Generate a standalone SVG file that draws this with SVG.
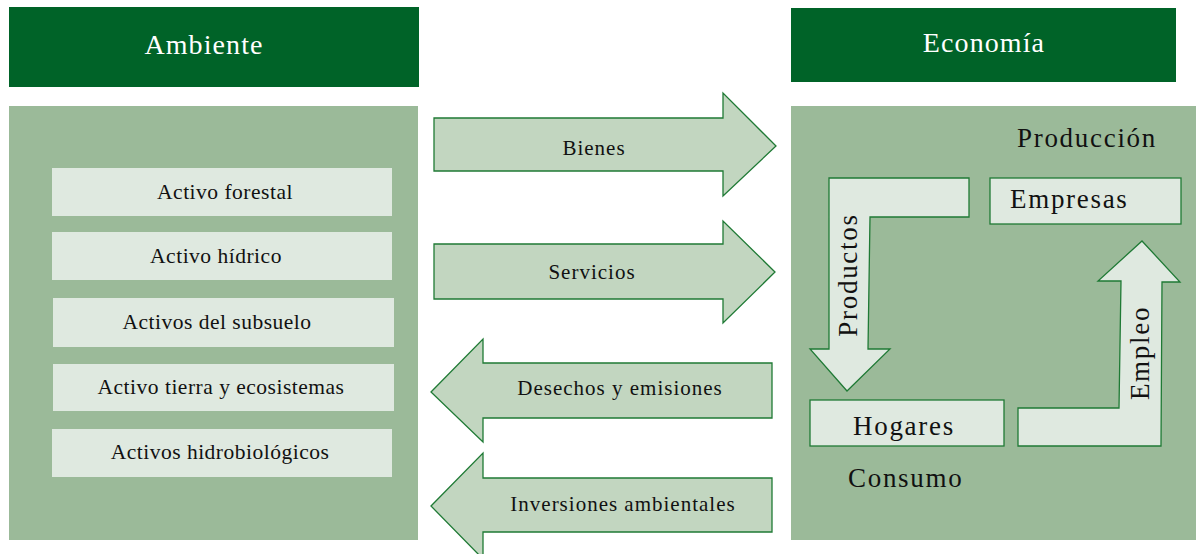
<svg xmlns="http://www.w3.org/2000/svg" width="1196" height="554" viewBox="0 0 1196 554">
<style>
.hdr{fill:#006328}
.panel{fill:#9bba99}
.item{fill:#dfe9e0}
.flow{fill:#c2d6c0;stroke:#1f7a35;stroke-width:1.3}
.inner{fill:#dfe9e0;stroke:#1f7a35;stroke-width:1.3}
text{font-family:"Liberation Serif","DejaVu Serif",serif;fill:#111}
.ht{fill:#fff;font-size:28px;letter-spacing:1.1px;text-anchor:middle}
.it{font-size:21.5px;letter-spacing:0.5px;text-anchor:middle}
.ft{font-size:21px;letter-spacing:1px;text-anchor:middle}
.big{font-size:27px;letter-spacing:1.7px}
</style>
<g id="ambiente-header"><rect class="hdr" x="9" y="7" width="410" height="80"/><text class="ht" x="204" y="54">Ambiente</text></g>
<g id="ambiente-panel"><rect class="panel" x="9" y="106" width="409" height="434"/></g>
<g id="activo-forestal"><rect class="item" x="52" y="168" width="340" height="48"/><text class="it" x="225" y="199">Activo forestal</text></g>
<g id="activo-hidrico"><rect class="item" x="52" y="232" width="340" height="48"/><text class="it" x="216" y="263">Activo hídrico</text></g>
<g id="activos-subsuelo"><rect class="item" x="53" y="298" width="341" height="49"/><text class="it" x="217" y="329">Activos del subsuelo</text></g>
<g id="activo-tierra"><rect class="item" x="53" y="364" width="341" height="47"/><text class="it" x="221" y="394">Activo tierra y ecosistemas</text></g>
<g id="activos-hidrobiologicos"><rect class="item" x="52" y="429" width="340" height="48"/><text class="it" x="220" y="459">Activos hidrobiológicos</text></g>
<g id="economia-header"><rect class="hdr" x="791" y="8" width="385" height="74"/><text class="ht" x="984" y="52">Economía</text></g>
<g id="economia-panel"><rect class="panel" x="791" y="106" width="405" height="434"/>
<text class="big" x="1017" y="147">Producción</text>
<text class="big" x="848" y="487">Consumo</text></g>
<g id="empresas"><rect class="inner" x="990" y="178" width="191" height="46"/><text class="big" x="1010" y="208">Empresas</text></g>
<g id="hogares"><rect class="inner" x="810" y="400" width="194" height="46"/><text class="big" x="853" y="435">Hogares</text></g>
<g id="connectors">
<g id="bienes"><polygon class="flow" points="434,118 723,118 723,93 776,146 723,196 723,171 434,171"/><text class="ft" x="594" y="155">Bienes</text></g>
<g id="servicios"><polygon class="flow" points="434,244 723,244 723,221 775,272 723,323 723,299 434,299"/><text class="ft" x="592" y="279">Servicios</text></g>
<g id="desechos"><polygon class="flow" points="431,392 483,339 483,363 772,363 772,418 483,418 483,442"/><text class="ft" x="620" y="395">Desechos y emisiones</text></g>
<g id="inversiones"><polygon class="flow" points="431,506 483,453 483,478 772,478 772,532 483,532 483,559"/><text class="ft" x="623" y="511">Inversiones ambientales</text></g>
<g id="productos"><polygon class="inner" points="829,178 969,178 969,217 870,217 868,349 890,349 847,391 810,349 829,349"/><text class="big" transform="translate(857,275) rotate(-90)" text-anchor="middle">Productos</text></g>
<g id="empleo"><polygon class="inner" points="1018,408 1119,408 1121,281 1098,281 1142,241 1180,282 1162,282 1161,446 1018,446"/><text class="big" transform="translate(1149,353) rotate(-90)" text-anchor="middle">Empleo</text></g>
</g>
</svg>
